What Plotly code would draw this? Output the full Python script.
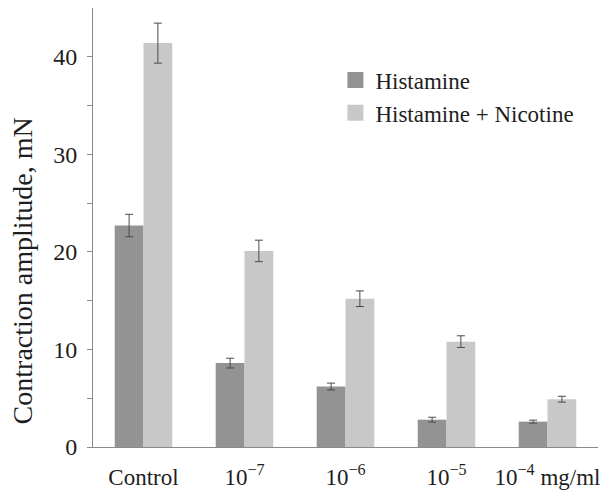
import plotly.graph_objects as go

categories = ["Control", "10<sup>−7</sup>", "10<sup>−6</sup>", "10<sup>−5</sup>", "10<sup>−4</sup> mg/ml"]
histamine = [22.7, 8.6, 6.2, 2.8, 2.6]
histamine_err = [1.15, 0.5, 0.35, 0.25, 0.15]
hist_nic = [41.4, 20.1, 15.2, 10.8, 4.9]
hist_nic_err = [2.05, 1.1, 0.8, 0.6, 0.3]
series_names = ["Histamine", "Histamine + Nicotine"]
series_colors = ["#939393", "#c8c8c8"]

y_tickvals = [0, 5, 10, 15, 20, 25, 30, 35, 40]
y_ticktext = ["0", "", "10", "", "20", "", "30", "", "40"]
y_title = "Contraction amplitude, mN"

font_family = "Liberation Serif, Times New Roman, serif"
text_color = "#1e1e1e"

fig = go.Figure()
for vals, errs, name, color in [(histamine, histamine_err, series_names[0], series_colors[0]),
                                (hist_nic, hist_nic_err, series_names[1], series_colors[1])]:
    fig.add_trace(go.Bar(
        x=categories, y=vals, name=name, showlegend=False,
        marker=dict(color=color, line=dict(width=0)),
        error_y=dict(type="data", array=errs, color="#4a4a4a", thickness=1, width=4),
    ))
# legend entries with larger square swatches
for name, color in zip(series_names, series_colors):
    fig.add_trace(go.Scatter(
        x=[None], y=[None], mode="markers", name=name,
        marker=dict(symbol="square", size=18, color=color, line=dict(width=0)),
    ))

fig.update_layout(
    width=602, height=482,
    margin=dict(l=85, r=12, t=0, b=43),
    paper_bgcolor="white", plot_bgcolor="white",
    barmode="group", bargap=0.43, bargroupgap=0,
    font=dict(family=font_family, size=23, color=text_color),
    showlegend=True,
    legend=dict(x=0.48, y=0.885, xanchor="left", yanchor="top",
                font=dict(size=23, family=font_family, color=text_color),
                bgcolor="rgba(0,0,0,0)", itemwidth=30, tracegroupgap=8),
    annotations=[dict(
        text=y_title, textangle=-90, xref="paper", yref="paper",
        x=0, y=0.40, xanchor="center", yanchor="middle", xshift=-71,
        showarrow=False, font=dict(size=28, family=font_family, color=text_color),
    )],
)
fig.update_xaxes(
    showline=True, linecolor="#8a8a8a", linewidth=1,
    ticks="", showgrid=False, zeroline=False,
    tickfont=dict(size=23, family=font_family, color=text_color),
    ticklabelstandoff=9,
    range=[-0.5, 4.5],
)
fig.update_yaxes(
    range=[0, 45], showline=True, linecolor="#8a8a8a", linewidth=1,
    ticks="outside", ticklen=5, tickcolor="#8a8a8a",
    tickvals=y_tickvals, ticktext=y_ticktext,
    showgrid=False, zeroline=False,
    tickfont=dict(size=24, family=font_family, color=text_color),
    ticklabelstandoff=5,
)

fig.write_html("out.html")
